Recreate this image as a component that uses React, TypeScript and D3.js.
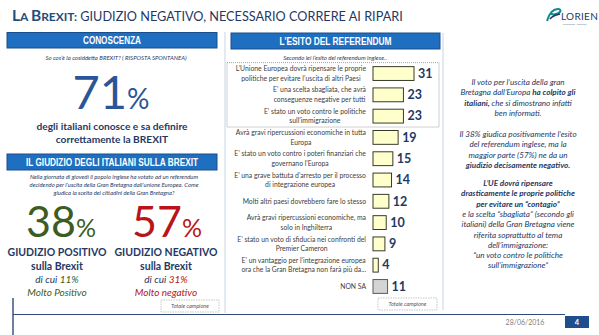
import React from 'react';
import * as d3 from 'd3';

const W = 599;
const H = 335;

// ---- data ----
const categories: string[][] = [
  ["L’Unione Europea dovrà ripensare le proprie", "politiche per evitare l’uscita di altri Paesi"],
  ["E’ una scelta sbagliata, che avrà", "conseguenze negative per tutti"],
  ["E’ stato un voto contro le politiche", "sull’immigrazione"],
  ["Avrà gravi ripercussioni economiche in tutta", "Europa"],
  ["E’ stato un voto contro i poteri finanziari che", "governano l’Europa"],
  ["E’ una grave battuta d’arresto per il processo", "di integrazione europea"],
  ["Molti altri paesi dovrebbero fare lo stesso"],
  ["Avrà gravi ripercussioni economiche, ma", "solo in Inghilterra"],
  ["E’ stato un voto di sfiducia nei confronti del", "Premier Cameron"],
  ["E’ un vantaggio per l’integrazione europea", "ora che la Gran Bretagna non farà più da..."],
  ["NON SA"],
];
const values = [31, 23, 23, 19, 15, 14, 12, 10, 9, 4, 11];
const highlighted = 3;
const knowledgeValue = 71;
const positiveValue = 38;
const positiveStrong = 11;
const negativeValue = 57;
const negativeStrong = 31;

type Seg = { t: string; b?: boolean };
const rightParagraphs: Seg[][][] = [
  [
    [{ t: "Il voto per l’uscita della gran" }],
    [{ t: "Bretagna dall’Europa " }, { t: "ha colpito gli", b: true }],
    [{ t: "italiani,", b: true }, { t: " che si dimostrano infatti" }],
    [{ t: "ben informati." }],
  ],
  [
    [{ t: "Il 38% giudica positivamente l’esito" }],
    [{ t: "del referendum inglese, ma la" }],
    [{ t: "maggior parte (57%) ne da un" }],
    [{ t: "giudizio decisamente negativo.", b: true }],
  ],
  [
    [{ t: "L’UE dovrà ripensare", b: true }],
    [{ t: "drasticamente le proprie politiche", b: true }],
    [{ t: "per evitare un “contagio”", b: true }],
    [{ t: "e la scelta “sbagliata” (secondo gli" }],
    [{ t: "italiani) della Gran Bretagna viene" }],
    [{ t: "riferita soprattutto al tema" }],
    [{ t: "dell’immigrazione:" }],
    [{ t: "“un voto contro le politiche" }],
    [{ t: "sull’immigrazione”" }],
  ],
];
const paragraphStarts = [85, 137, 186];

const questionLines = [
  "Nella giornata di giovedì il popolo inglese ha votato ad un referendum",
  "decidendo per l’uscita della Gran Bretagna dall’unione Europea. Come",
  "giudica la scelta dei cittadini della Gran Bretagna?",
];

// ---- styles ----
const FONT = "Lato, 'Open Sans', sans-serif";
const ARIAL = "'Liberation Sans', Arial, sans-serif";
const DARK = "#1F3864";
const BLUE = "#2A5699";
const BANNER = "#1F6FC0";
const GREEN = "#3D5C23";
const RED = "#B8141A";

let ctx: CanvasRenderingContext2D | null = null;
function measure(text: string, font: string): number {
  if (!ctx) ctx = document.createElement('canvas').getContext('2d');
  if (!ctx) return text.length * 3.2;
  ctx.font = font;
  return ctx.measureText(text).width;
}

function Banner({ x, y, w, h, label, tw }: { x: number; y: number; w: number; h: number; label: string; tw: number }) {
  return (
    <g>
      <rect x={x} y={y} width={w} height={h} fill={BANNER} stroke="#1A4E8A" strokeWidth={1} />
      <text x={x + w / 2} y={y + h / 2 + 3.6} textAnchor="middle" fill="#fff" fontFamily={ARIAL}
        fontWeight="bold" fontSize={10.5} textLength={tw} lengthAdjust="spacingAndGlyphs">{label}</text>
    </g>
  );
}

function Totale({ x, y, w, h }: { x: number; y: number; w: number; h: number }) {
  return (
    <g>
      <rect x={x} y={y} width={w} height={h} fill="#fff" stroke="#B8B8B8" strokeDasharray="1.5,1" strokeWidth={0.8} />
      <text x={x + w / 2} y={y + h / 2 + 2} textAnchor="middle" fontFamily={FONT} fontStyle="italic"
        fontSize={5.6} fill="#555">Totale campione</text>
    </g>
  );
}

export default function App() {
  const xScale = d3.scaleLinear().domain([0, 35]).range([373, 419.3]);
  const yScale = d3.scaleBand<number>().domain(d3.range(values.length)).range([63, 297])
    .paddingInner(0.35).paddingOuter(0.17);
  const bw = yScale.bandwidth();
  const labelFontSize = 6.8;
  const labelFont = `${labelFontSize}px Lato`;
  const labelRight = 366;

  return (
    <svg width={W} height={H} style={{ position: 'absolute', left: 0, top: 0, background: '#fff' }}>
      <rect width={W} height={H} fill="#fff" />

      {/* Title */}
      <text x={12} y={21} fontFamily={FONT} fill="#1F4E79">
        <tspan fontWeight="bold" fontSize={15.5}>L</tspan>
        <tspan fontWeight="bold" fontSize={12}>A </tspan>
        <tspan fontWeight="bold" fontSize={15.5}>B</tspan>
        <tspan fontWeight="bold" fontSize={12}>REXIT:</tspan>
        <tspan fontSize={12.7} fill={DARK}> GIUDIZIO NEGATIVO, NECESSARIO CORRERE AI RIPARI</tspan>
      </text>

      {/* Logo */}
      <g>
        <path d="M547,21 C549,14 553,9 558,9 C562,9 561,13 556,14 C553,15 551,14 550,13" fill="none" stroke="#0E8C8C" strokeWidth={2} />
        <path d="M550,19 C553,15 556,15 560,14" fill="none" stroke="#1F3864" strokeWidth={1.6} />
        <text x={561} y={20} fontFamily={FONT} fontSize={10} fill="#1F3864" letterSpacing={0.3}>LORIEN</text>
        <text x={563} y={24.5} fontFamily={FONT} fontSize={2.6} fill="#6b7a90">consulting · research</text>
      </g>

      {/* Separators */}
      <line x1={225} y1={32} x2={225} y2={313} stroke="#C9D4E3" strokeWidth={1} />
      <line x1={443} y1={33} x2={443} y2={310} stroke="#C9D4E3" strokeWidth={1} />

      {/* Left column */}
      <Banner x={7} y={32.5} w={210} h={15.5} label="CONOSCENZA" tw={58} />
      <text x={116} y={60} textAnchor="middle" fontFamily={FONT} fontStyle="italic" fontSize={6} fill={DARK}>
        So cos’è la cosiddetta BREXIT? ( RISPOSTA SPONTANEA)
      </text>
      <text x={111} y={109} textAnchor="middle" fontFamily={FONT} fill={BLUE}>
        <tspan fontSize={47}>{knowledgeValue}</tspan>
        <tspan fontSize={28}>%</tspan>
      </text>
      <text x={112} y={130} textAnchor="middle" fontFamily={FONT} fontWeight="bold" fontSize={10.2} fill={DARK}>
        degli italiani conosce e sa definire
      </text>
      <text x={112} y={143} textAnchor="middle" fontFamily={FONT} fontWeight="bold" fontSize={10.2} fill={DARK}>
        correttamente la BREXIT
      </text>

      <Banner x={7} y={154} w={210} h={16} label="IL GIUDIZIO DEGLI ITALIANI SULLA BREXIT" tw={172} />
      {questionLines.map((l, i) => (
        <text key={i} x={114} y={179 + i * 8.2} textAnchor="middle" fontFamily={FONT} fontStyle="italic"
          fontSize={5.9} fill={DARK}>{l}</text>
      ))}

      <text x={61} y={237} textAnchor="middle" fontFamily={FONT} fill={GREEN}>
        <tspan fontSize={43}>{positiveValue}</tspan>
        <tspan fontSize={25}>%</tspan>
      </text>
      <text x={167} y={237} textAnchor="middle" fontFamily={FONT} fill={RED}>
        <tspan fontSize={43}>{negativeValue}</tspan>
        <tspan fontSize={25}>%</tspan>
      </text>

      <text x={57} y={256} textAnchor="middle" fontFamily={FONT} fontWeight="bold" fontSize={10.5} fill={DARK}>GIUDIZIO POSITIVO</text>
      <text x={166} y={256} textAnchor="middle" fontFamily={FONT} fontWeight="bold" fontSize={10.5} fill={DARK}>GIUDIZIO NEGATIVO</text>
      <text x={57} y={270} textAnchor="middle" fontFamily={FONT} fontWeight="bold" fontSize={10.5} fill={DARK}>sulla Brexit</text>
      <text x={166} y={270} textAnchor="middle" fontFamily={FONT} fontWeight="bold" fontSize={10.5} fill={DARK}>sulla Brexit</text>
      <text x={57} y={283} textAnchor="middle" fontFamily={FONT} fontStyle="italic" fontSize={10} fill={DARK}>
        di cui <tspan fill={GREEN}>{positiveStrong}%</tspan>
      </text>
      <text x={166} y={283} textAnchor="middle" fontFamily={FONT} fontStyle="italic" fontSize={10} fill={DARK}>
        di cui <tspan fill={RED}>{negativeStrong}%</tspan>
      </text>
      <text x={57} y={296} textAnchor="middle" fontFamily={FONT} fontStyle="italic" fontSize={10} fill={GREEN}>Molto Positivo</text>
      <text x={166} y={296} textAnchor="middle" fontFamily={FONT} fontStyle="italic" fontSize={10} fill={RED}>Molto negativo</text>

      <Totale x={161} y={300} w={58} h={12} />

      {/* Middle column */}
      <Banner x={231} y={33} w={209} h={16} label="L’ESITO DEL REFERENDUM" tw={112} />
      <text x={335} y={60} textAnchor="middle" fontFamily={FONT} fontStyle="italic" fontSize={6} fill={DARK}>
        Secondo lei l’esito del referendum inglese..
      </text>
      <rect x={227} y={yScale(0)! - 4} width={212} height={yScale(highlighted - 1)! + bw + 4 - (yScale(0)! - 4)}
        fill="none" stroke="#8A8A8A" strokeWidth={0.8} strokeDasharray="1,1" />

      {values.map((v, i) => {
        const y0 = yScale(i)!;
        const cy = y0 + bw / 2;
        const lines = categories[i];
        const blockW = Math.max(...lines.map(l => measure(l, labelFont)));
        const cx = labelRight - blockW / 2;
        const isNonSa = i === values.length - 1;
        return (
          <g key={i}>
            {lines.map((l, k) => (
              <text key={k} x={cx} y={cy + (k - (lines.length - 1) / 2) * 9.5 + 2.4} textAnchor="middle"
                fontFamily={FONT} fontSize={labelFontSize} fill="#404040">{l}</text>
            ))}
            <rect x={xScale(0)} y={y0} width={xScale(v) - xScale(0)} height={bw}
              fill={isNonSa ? "#D4D4D4" : "#FFFFCC"} stroke={isNonSa ? "#5A5A5A" : "#3A3A2A"} strokeWidth={1} />
            <text x={xScale(v) + 4} y={cy + 4.3} fontFamily={FONT} fontWeight="bold" fontSize={12.5} fill={DARK}>{v}</text>
          </g>
        );
      })}

      <Totale x={378} y={298} w={59} h={12} />

      {/* Right column */}
      {rightParagraphs.map((para, p) => para.map((line, k) => (
        <text key={`${p}-${k}`} x={518} y={paragraphStarts[p] + k * 10.3} textAnchor="middle" fontFamily={FONT}
          fontStyle="italic" fontSize={8.1} fill={DARK}>
          {line.map((s, j) => (
            <tspan key={j} fontWeight={s.b ? 'bold' : 'normal'}>{s.t}</tspan>
          ))}
        </text>
      )))}

      {/* Footer */}
      <line x1={13} y1={314.5} x2={565} y2={314.5} stroke="#2F4A78" strokeWidth={1.2} />
      <line x1={13} y1={298} x2={13} y2={335} stroke="#2F4A78" strokeWidth={1.4} />
      <text x={525} y={325} textAnchor="middle" fontFamily={FONT} fontSize={7} fill="#7F7F7F">28/06/2016</text>
      <rect x={565} y={316} width={24} height={12} fill="#1F4E8C" />
      <text x={577} y={325} textAnchor="middle" fontFamily={FONT} fontWeight="bold" fontSize={7.5} fill="#fff">4</text>
    </svg>
  );
}
